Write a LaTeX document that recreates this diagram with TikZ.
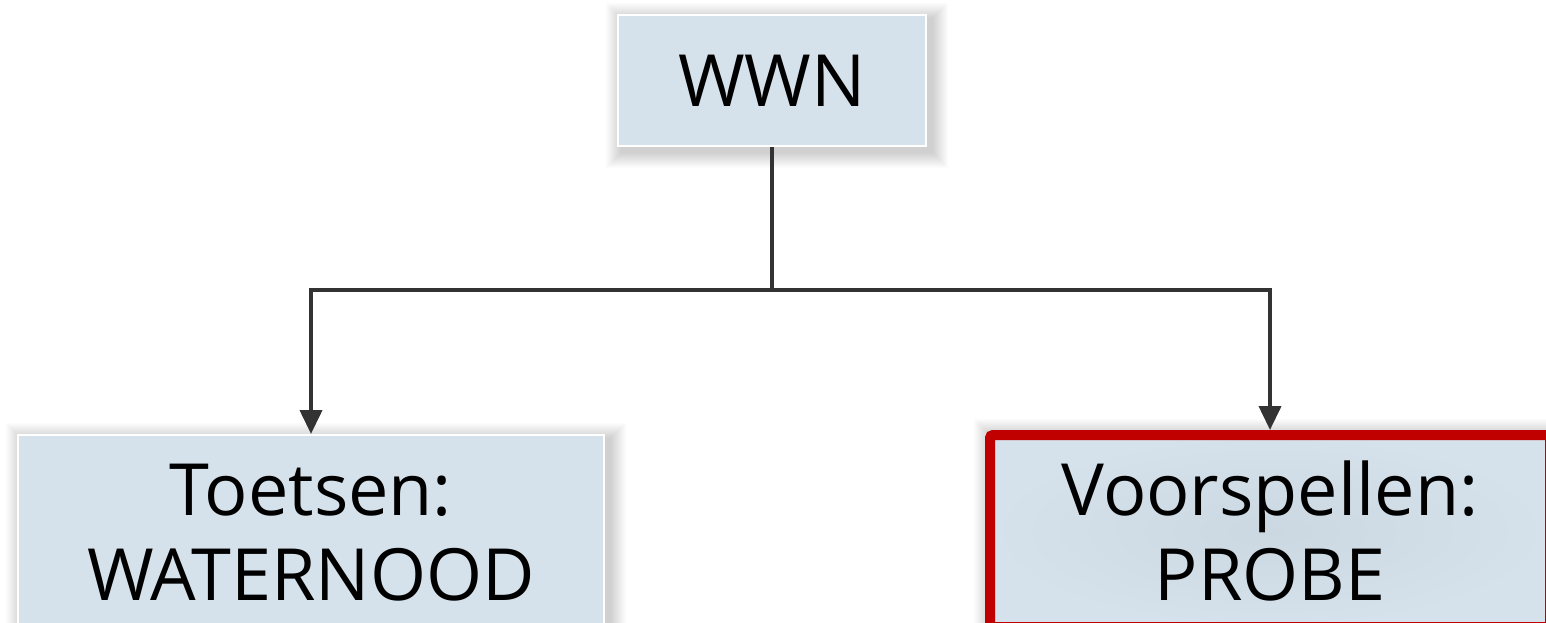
\documentclass[tikz,border=0pt]{standalone}
\usepackage{fontspec}
\setmainfont{Open Sans}
\usetikzlibrary{arrows.meta,backgrounds}
\definecolor{boxfill}{HTML}{D6E2EB}
\definecolor{boxfilldark}{HTML}{CBD8E1}
\definecolor{redline}{HTML}{C00000}
\definecolor{connline}{HTML}{333333}
\tikzset{
  box/.style={draw=white,line width=2pt,fill=boxfill,align=center,
    font=\fontsize{72}{85}\selectfont,inner sep=0pt},
  hotbox/.style={box,draw=redline,line width=10pt,rounded corners=3pt,
    inner color=boxfilldark,outer color=boxfill},
  conn/.style={draw=connline,line width=4pt},
  arr/.style={conn,-{Triangle[length=24pt,width=22pt]}}
}
\newcommand{\softshadow}[1]{%
  \foreach \r in {1,...,16}{%
    \fill[black,opacity=0.011]
      ([shift={(5-\r,5-\r)}]#1.north west) rectangle ([shift={(5+\r,5+\r)}]#1.south east);
  }%
}
\begin{document}
\begin{tikzpicture}[x=1pt,y=-1pt]
\useasboundingbox (0,0) rectangle (1546,622);
\clip (0,0) rectangle (1546,622);
\node[box,minimum width=308pt,minimum height=131pt] (top) at (772,80.5) {WWN};
\node[box,minimum width=586pt,minimum height=195pt] (left) at (311,532.5) {Toetsen:\\WATERNOOD};
\node[hotbox,minimum width=560pt,minimum height=192pt] (right) at (1270,531) {Voorspellen:\\PROBE};
\begin{scope}[on background layer]
  \softshadow{top}
  \softshadow{left}
  \softshadow{right}
\end{scope}
\coordinate (j) at (772,290);
\draw[conn] (top.south) -- (j);
\draw[arr] (j) -| (left.north);
\draw[arr] (j) -| (right.north);
\end{tikzpicture}
\end{document}
